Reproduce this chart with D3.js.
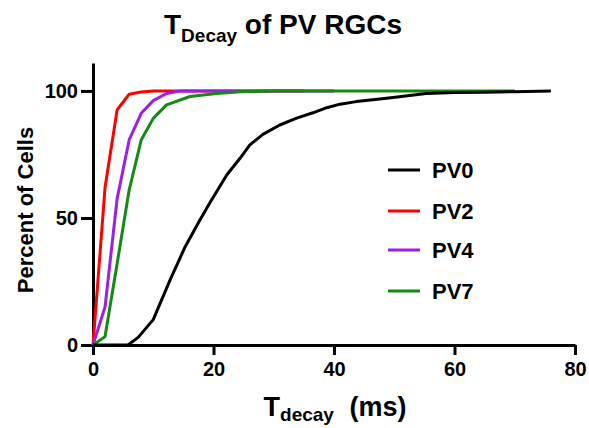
<!DOCTYPE html>
<html>
<head>
<meta charset="utf-8">
<title>TDecay of PV RGCs</title>
<script src="https://cdn.jsdelivr.net/npm/d3@7"></script>
<style>
  body { margin: 0; background: #fff; }
  text { font-family: "Liberation Sans", Arial, sans-serif; font-weight: bold; fill: #000; }
  .axis path, .axis line { stroke: #000; stroke-width: 3px; }
  .curve { fill: none; stroke-width: 3px; stroke-linejoin: round; }
</style>
</head>
<body>
<div id="chart"></div>
<script>
// cumulative % of cells vs decay time (ms)
var pv0_x = [0, 5.8, 7.5, 10, 12.8, 15.3, 17.7, 19.4, 22.2, 24.4, 26, 28.2, 31, 33.8, 36.5, 38.8, 41, 43.7, 47.6, 49.8, 55.3, 60, 65, 70, 76];
var pv0_y = [0, 0, 3, 10, 25.6, 38.7, 49, 56, 66.9, 73.5, 78.7, 82.9, 86.6, 89.3, 91.4, 93.4, 94.8, 95.8, 96.8, 97.4, 99, 99.4, 99.5, 99.7, 100];
var pv2_x = [0, 2, 4, 6, 8, 10, 35];
var pv2_y = [0, 62, 92.5, 98.7, 99.6, 100, 100];
var pv4_x = [0, 2, 4, 6, 8, 10, 12.2, 14.4, 40];
var pv4_y = [0, 15, 57.5, 80.7, 91.2, 96.2, 99, 100, 100];
var pv7_x = [0, 2, 4, 6, 8, 10, 12.2, 16.1, 20.5, 24.4, 30, 70];
var pv7_y = [0, 3.3, 32, 61, 80.7, 89.2, 94.5, 97.8, 99, 99.7, 100, 100];

var legendNames = ["PV0", "PV2", "PV4", "PV7"];
var colors = ["#000000", "#ff0000", "#9b1fe8", "#138a13"];
var xTicks = [0, 20, 40, 60, 80];
var yTicks = [0, 50, 100];

var series = [
  { name: "PV2", color: colors[1], x: pv2_x, y: pv2_y },
  { name: "PV4", color: colors[2], x: pv4_x, y: pv4_y },
  { name: "PV7", color: colors[3], x: pv7_x, y: pv7_y },
  { name: "PV0", color: colors[0], x: pv0_x, y: pv0_y }
];

var width = 589, height = 428;
var svg = d3.select("#chart").append("svg")
  .attr("width", width)
  .attr("height", height);

var x = d3.scaleLinear().domain([0, 80]).range([93, 575]);
var y = d3.scaleLinear().domain([0, 111]).range([345, 63]);

// title
var title = svg.append("text")
  .attr("x", 283)
  .attr("y", 34)
  .attr("text-anchor", "middle")
  .style("font-size", "28px");
title.append("tspan").text("T");
title.append("tspan").attr("dy", 8).style("font-size", "19px").text("Decay");
title.append("tspan").attr("dy", -8).text(" of PV RGCs");

// axes
svg.append("g")
  .attr("class", "axis")
  .attr("transform", "translate(0," + y(0) + ")")
  .call(d3.axisBottom(x).tickValues(xTicks).tickSizeInner(10).tickSizeOuter(0).tickPadding(7))
  .call(function(g) { g.selectAll("text").style("font-size", "20px"); });

svg.append("g")
  .attr("class", "axis")
  .attr("transform", "translate(" + x(0) + ",0)")
  .call(d3.axisLeft(y).tickValues(yTicks).tickSizeInner(12).tickSizeOuter(0).tickPadding(3))
  .call(function(g) { g.selectAll("text").style("font-size", "20px"); });

// axis labels
var xl = svg.append("text")
  .attr("x", 335)
  .attr("y", 416)
  .attr("text-anchor", "middle")
  .style("font-size", "27px");
xl.append("tspan").text("T");
xl.append("tspan").attr("dy", 5).style("font-size", "19px").text("decay");
xl.append("tspan").attr("dy", -5).attr("dx", 8).text(" (ms)");

svg.append("text")
  .attr("transform", "translate(33,210) rotate(-90)")
  .attr("text-anchor", "middle")
  .style("font-size", "22px")
  .text("Percent of Cells");

// curves
var line = d3.line()
  .x(function(d) { return x(d[0]); })
  .y(function(d) { return y(d[1]); });

svg.selectAll(".curve")
  .data(series)
  .enter().append("path")
  .attr("class", "curve")
  .attr("stroke", function(d) { return d.color; })
  .attr("d", function(d) { return line(d3.zip(d.x, d.y)); });

// legend
var legendY = [170, 211, 250, 291];
var lg = svg.selectAll(".leg")
  .data(legendNames)
  .enter().append("g")
  .attr("class", "leg")
  .attr("transform", function(d, i) { return "translate(388," + legendY[i] + ")"; });
lg.append("line")
  .attr("x1", 0).attr("x2", 32)
  .attr("stroke", function(d, i) { return colors[i]; })
  .attr("stroke-width", 3);
lg.append("text")
  .attr("x", 44)
  .attr("dy", "0.36em")
  .style("font-size", "22px")
  .text(function(d) { return d; });
</script>
</body>
</html>
